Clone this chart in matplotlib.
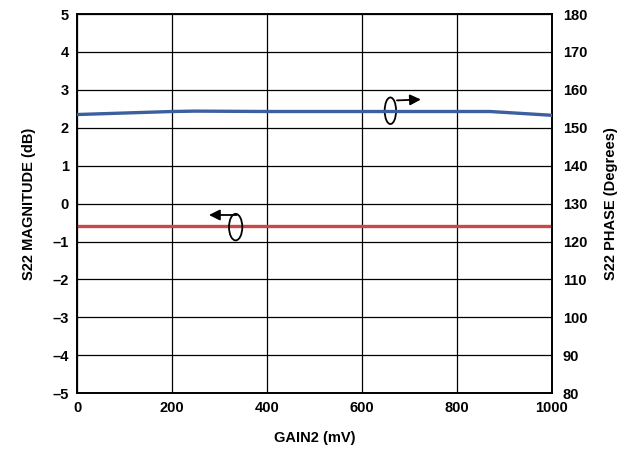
import matplotlib.pyplot as plt
from matplotlib.patches import Ellipse

plt.rcParams['font.family'] = ['Liberation Sans', 'DejaVu Sans']
plt.rcParams['font.weight'] = 'bold'

# data
gain2 = [0, 100, 200, 250, 400, 600, 800, 870, 1000]
mag_db = [-0.6, -0.6, -0.6, -0.6, -0.6, -0.6, -0.6, -0.6, -0.6]
phase_deg = [153.5, 153.9, 154.3, 154.4, 154.3, 154.3, 154.3, 154.3, 153.3]

left_ticks = [-5, -4, -3, -2, -1, 0, 1, 2, 3, 4, 5]
right_ticks = [80, 90, 100, 110, 120, 130, 140, 150, 160, 170, 180]
x_ticks = [0, 200, 400, 600, 800, 1000]

fig = plt.figure(figsize=(6.27, 4.54), dpi=100)
ax = fig.add_axes([0.123, 0.134, 0.757, 0.835])
ax2 = ax.twinx()

ax.plot(gain2, mag_db, color='#c9494b', lw=2.4, zorder=3)
ax2.plot(gain2, phase_deg, color='#3b5f9f', lw=2.4, zorder=3)

ax.set_xlim(0, 1000)
ax.set_ylim(-5, 5)
ax2.set_ylim(80, 180)
ax.set_xticks(x_ticks)
ax.set_yticks(left_ticks)
ax2.set_yticks(right_ticks)
ax.set_xticklabels([str(t) for t in x_ticks], fontweight='bold')
ax.set_yticklabels([str(t).replace('-', '\u2013') for t in left_ticks], fontweight='bold')
ax2.set_yticklabels([str(t) for t in right_ticks], fontweight='bold')
ax.grid(True, color='black', lw=0.9)
ax.tick_params(length=0, labelsize=10.5, pad=6)
ax2.tick_params(length=0, labelsize=10.5, pad=8)
for a in (ax, ax2):
    for s in a.spines.values():
        s.set_linewidth(1.2)
        s.set_color('black')

ax.set_xlabel('GAIN2 (mV)', fontsize=10.5, fontweight='bold', labelpad=11)
ax.set_ylabel('S22 MAGNITUDE (dB)', fontsize=10.5, fontweight='bold', labelpad=12)
ax2.set_ylabel('S22 PHASE (Degrees)', fontsize=10.5, fontweight='bold', labelpad=12)

# circle-and-arrow markers
ax.add_patch(Ellipse((660, 2.45), 24, 0.7, fill=False, ec='black', lw=1.3, zorder=4))
ax.annotate('', xy=(730, 2.75), xytext=(668, 2.72),
            arrowprops=dict(arrowstyle='-|>', color='black', lw=1.3, mutation_scale=16), zorder=4)
ax.add_patch(Ellipse((334, -0.62), 28, 0.7, fill=False, ec='black', lw=1.3, zorder=4))
ax.annotate('', xy=(272, -0.3), xytext=(342, -0.3),
            arrowprops=dict(arrowstyle='-|>', color='black', lw=1.3, mutation_scale=16), zorder=4)

fig.savefig('out.png', dpi=100)
